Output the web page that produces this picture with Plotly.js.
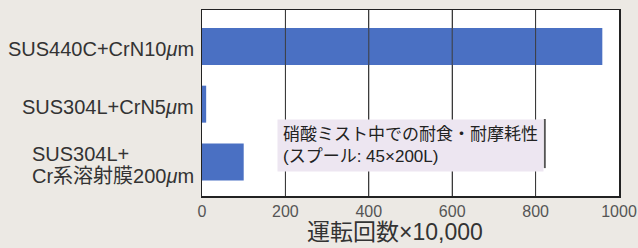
<!DOCTYPE html>
<html>
<head>
<meta charset="utf-8">
<script src="https://cdn.plot.ly/plotly-3.0.1.min.js"></script>
<style>html,body{margin:0;padding:0;background:#ece9e4;}#chart{width:638px;height:248px;}</style>
</head>
<body>
<div id="chart"></div>
<script>
const categories = ['SUS440C+CrN10<i>μ</i>m', 'SUS304L+CrN5<i>μ</i>m', 'SUS304L+<br>Cr系溶射膜200<i>μ</i>m'];
const values = [960, 10, 100];
const xTicks = [0, 200, 400, 600, 800, 1000];
const xTitle = '運転回数×10,000';
const noteText = '硝酸ミスト中での耐食・耐摩耗性<br>(スプール: 45×200L)';

const FONT = 'Liberation Sans, Arial, Noto Sans CJK JP, sans-serif';
const idx = categories.map((c, i) => i);
const LINE_GAP = 22;
const Y_RANGE = [2.59, -0.63];

// vertical grid lines drawn as a line trace placed before the bars
const gx = [], gy = [];
xTicks.slice(1, -1).forEach(v => { gx.push(v, v, null); gy.push(Y_RANGE[0], Y_RANGE[1], null); });
const gridTrace = {
  type: 'scatter', mode: 'lines', x: gx, y: gy,
  line: {color: '#3c3c3c', width: 1}, hoverinfo: 'none'
};

const trace = {
  type: 'bar',
  orientation: 'h',
  x: values,
  y: idx,
  width: 0.64,
  marker: {color: '#4a70c3'},
  hoverinfo: 'none'
};

const labelAnns = [];
const multiGroups = [];
categories.forEach((c, i) => {
  const lines = c.split('<br>');
  const group = [];
  lines.forEach((ln, j) => {
    group.push(labelAnns.length);
    labelAnns.push({
      xref: 'paper', yref: 'y', x: 0, y: i,
      xanchor: 'right', yanchor: 'middle', xshift: -6,
      yshift: -3 + ((lines.length - 1) / 2 - j) * LINE_GAP,
      text: ln, showarrow: false, align: 'left',
      font: {family: FONT, size: 20, color: '#333'}
    });
  });
  if (lines.length > 1) multiGroups.push(group);
});

const layout = {
  width: 638, height: 248,
  margin: {l: 202, r: 19, t: 10, b: 52},
  paper_bgcolor: '#ece9e4',
  plot_bgcolor: '#ffffff',
  showlegend: false,
  font: {family: FONT},
  xaxis: {
    type: 'linear',
    range: [0, 1000], tickvals: xTicks, ticktext: xTicks.map(String),
    showgrid: true, gridcolor: '#3c3c3c', gridwidth: 1, zeroline: false,
    showline: true, mirror: true, linecolor: '#222', linewidth: 1.5,
    ticks: '', tickfont: {family: FONT, size: 16, color: '#555'}
  },
  yaxis: {
    type: 'linear',
    range: Y_RANGE, showgrid: false, zeroline: false,
    showticklabels: false, ticks: '',
    showline: true, mirror: true, linecolor: '#222', linewidth: 1.5
  },
  annotations: labelAnns.concat([{
    xref: 'paper', yref: 'paper', x: 0.18, y: 0.414,
    xanchor: 'left', yanchor: 'top', align: 'left',
    text: noteText, showarrow: false,
    bgcolor: '#ede6f1', borderpad: 5,
    font: {family: FONT, size: 17, color: '#222'}
  }, {
    xref: 'paper', yref: 'paper', x: 0.463, y: -0.194,
    xanchor: 'center', yanchor: 'middle',
    text: xTitle, showarrow: false,
    font: {family: FONT, size: 23, color: '#333'}
  }]),
  shapes: [{
    type: 'line', xref: 'paper', yref: 'paper',
    x0: 0.822, x1: 0.822, y0: 0.414, y1: 0.15,
    line: {color: '#555', width: 2}
  }]
};

Plotly.newPlot('chart', [gridTrace, trace], layout, {staticPlot: true, displayModeBar: false}).then(gd => {
  const nodes = gd.querySelectorAll('.annotation');
  const upd = {};
  multiGroups.forEach(group => {
    const widths = group.map(k => nodes[k].querySelector('text').getBBox().width);
    const w = Math.max(...widths);
    group.forEach((k, m) => {
      upd['annotations[' + k + '].xshift'] = -6 - (w - widths[m]);
    });
  });
  if (Object.keys(upd).length) Plotly.relayout(gd, upd);
});
</script>
</body>
</html>
